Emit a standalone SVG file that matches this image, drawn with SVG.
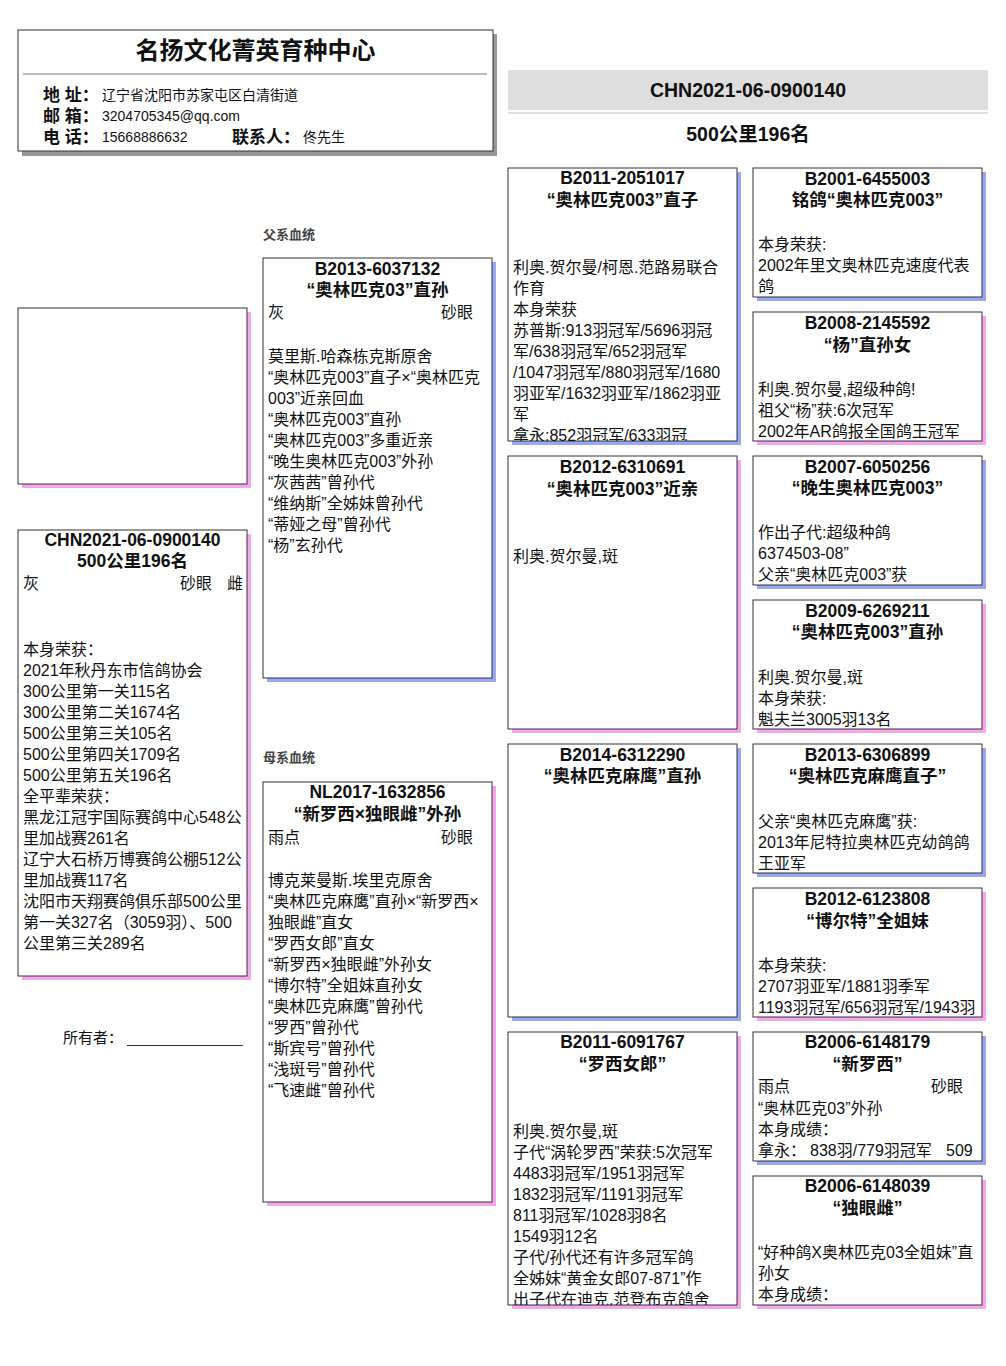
<svg xmlns="http://www.w3.org/2000/svg" width="1006" height="1366" viewBox="0 0 1006 1366">
<style>
.bg{fill:#fff}
.box{fill:#fff;stroke:#333;stroke-width:1}
.sb{fill:#9aa8f3}
.sp{fill:#f6a7eb}
.sg{fill:#999}
.h{font-family:"Liberation Sans","Noto Sans CJK SC",sans-serif;font-weight:bold;font-size:17.5px;text-anchor:middle;fill:#111}
.t{font-family:"Liberation Sans","Noto Sans CJK SC",sans-serif;font-size:16px;fill:#111}
.lb{font-family:"Liberation Sans","Noto Sans CJK SC",sans-serif;font-weight:bold;font-size:17px;fill:#111}
.v{font-family:"Liberation Sans","Noto Sans CJK SC",sans-serif;font-size:14px;fill:#111}
.sec{font-family:"Liberation Sans","Noto Sans CJK SC",sans-serif;font-weight:bold;font-size:13px;fill:#444}
</style>
<defs>
<clipPath id="cA"><rect x="508" y="168" width="229" height="273"/></clipPath>
<clipPath id="cD"><rect x="508" y="1032" width="229" height="273"/></clipPath>
</defs>
<rect class="bg" x="0" y="0" width="1006" height="1366"/>

<g id="header">
<rect class="sg" x="22" y="34" width="475" height="122"/>
<rect class="box" x="18" y="30" width="475" height="121"/>
<line x1="23" y1="74" x2="487" y2="74" stroke="#777" stroke-width="1"/>
<text x="255.5" y="59" text-anchor="middle" style="font-family:'Liberation Sans','Noto Sans CJK SC',sans-serif;font-weight:bold;font-size:24px;fill:#111">名扬文化菁英育种中心</text>
<text class="lb" x="43" y="101">地 址：</text>
<text class="v" x="102" y="100">辽宁省沈阳市苏家屯区白清街道</text>
<text class="lb" x="43" y="122">邮 箱：</text>
<text class="v" x="102" y="121">3204705345@qq.com</text>
<text class="lb" x="43" y="143">电 话：</text>
<text class="v" x="102" y="142">15668886632</text>
<text class="lb" x="232" y="143">联系人：</text>
<text class="v" x="303" y="142">佟先生</text>
</g>

<g id="title">
<rect x="508" y="70" width="480" height="40" fill="#dedede"/>
<rect x="508" y="112" width="480" height="2" fill="#dedede"/>
<text x="748" y="97" text-anchor="middle" style="font-family:'Liberation Sans','Noto Sans CJK SC',sans-serif;font-weight:bold;font-size:19.5px;fill:#111">CHN2021-06-0900140</text>
<text x="748" y="141" text-anchor="middle" style="font-family:'Liberation Sans','Noto Sans CJK SC',sans-serif;font-weight:bold;font-size:19.5px;fill:#111">500公里196名</text>
</g>

<g id="photo">
<rect class="sp" x="22" y="312" width="229" height="176"/>
<rect class="box" x="18" y="308" width="229" height="176"/>
</g>

<g id="subject">
<rect class="sp" x="22" y="534" width="229" height="446"/>
<rect class="box" x="18" y="530" width="229" height="446"/>
<text class="h" x="132.5" y="546">CHN2021-06-0900140</text>
<text class="h" x="132.5" y="567">500公里196名</text>
<text class="t" x="23" y="589">灰</text>
<text class="t" x="180" y="589">砂眼</text>
<text class="t" x="227" y="589">雌</text>
<text class="t" x="23" y="655">本身荣获：</text>
<text class="t" x="23" y="676">2021年秋丹东市信鸽协会</text>
<text class="t" x="23" y="697">300公里第一关115名</text>
<text class="t" x="23" y="718">300公里第二关1674名</text>
<text class="t" x="23" y="739">500公里第三关105名</text>
<text class="t" x="23" y="760">500公里第四关1709名</text>
<text class="t" x="23" y="781">500公里第五关196名</text>
<text class="t" x="23" y="802">全平辈荣获：</text>
<text class="t" x="23" y="823">黑龙江冠宇国际赛鸽中心548公</text>
<text class="t" x="23" y="844">里加战赛261名</text>
<text class="t" x="23" y="865">辽宁大石桥万博赛鸽公棚512公</text>
<text class="t" x="23" y="886">里加战赛117名</text>
<text class="t" x="23" y="907">沈阳市天翔赛鸽俱乐部500公里</text>
<text class="t" x="23" y="928">第一关327名（3059羽）、500</text>
<text class="t" x="23" y="949">公里第三关289名</text>
</g>

<g id="owner">
<text x="63" y="1043" style="font-family:'Liberation Sans','Noto Sans CJK SC',sans-serif;font-size:15px;fill:#111">所有者：</text>
<line x1="127" y1="1045.5" x2="243" y2="1045.5" stroke="#333" stroke-width="1"/>
</g>

<g id="sire">
<text class="sec" x="263" y="239">父系血统</text>
<rect class="sb" x="267" y="262" width="229" height="420"/>
<rect class="box" x="263" y="258" width="229" height="420"/>
<text class="h" x="377.5" y="275">B2013-6037132</text>
<text class="h" x="377.5" y="296">“奥林匹克03”直孙</text>
<text class="t" x="268" y="318">灰</text>
<text class="t" x="441" y="318">砂眼</text>
<text class="t" x="268" y="362">莫里斯.哈森栋克斯原舍</text>
<text class="t" x="268" y="383">“奥林匹克003”直子×“奥林匹克</text>
<text class="t" x="268" y="404">003”近亲回血</text>
<text class="t" x="268" y="425">“奥林匹克003”直孙</text>
<text class="t" x="268" y="446">“奥林匹克003”多重近亲</text>
<text class="t" x="268" y="467">“晚生奥林匹克003”外孙</text>
<text class="t" x="268" y="488">“灰茜茜”曾孙代</text>
<text class="t" x="268" y="509">“维纳斯”全姊妹曾孙代</text>
<text class="t" x="268" y="530">“蒂娅之母”曾孙代</text>
<text class="t" x="268" y="551">“杨”玄孙代</text>
</g>

<g id="dam">
<text class="sec" x="263" y="762">母系血统</text>
<rect class="sp" x="267" y="786" width="229" height="420"/>
<rect class="box" x="263" y="782" width="229" height="420"/>
<text class="h" x="377.5" y="798">NL2017-1632856</text>
<text class="h" x="377.5" y="820">“新罗西×独眼雌”外孙</text>
<text class="t" x="268" y="843">雨点</text>
<text class="t" x="441" y="843">砂眼</text>
<text class="t" x="268" y="886">博克莱曼斯.埃里克原舍</text>
<text class="t" x="268" y="907">“奥林匹克麻鹰”直孙×“新罗西×</text>
<text class="t" x="268" y="928">独眼雌”直女</text>
<text class="t" x="268" y="949">“罗西女郎”直女</text>
<text class="t" x="268" y="970">“新罗西×独眼雌”外孙女</text>
<text class="t" x="268" y="991">“博尔特”全姐妹直孙女</text>
<text class="t" x="268" y="1012">“奥林匹克麻鹰”曾孙代</text>
<text class="t" x="268" y="1033">“罗西”曾孙代</text>
<text class="t" x="268" y="1054">“斯宾号”曾孙代</text>
<text class="t" x="268" y="1075">“浅斑号”曾孙代</text>
<text class="t" x="268" y="1096">“飞速雌”曾孙代</text>
</g>

<g id="ss">
<rect class="sb" x="512" y="172" width="229" height="273"/>
<rect class="box" x="508" y="168" width="229" height="273"/>
<text class="h" x="622.5" y="184">B2011-2051017</text>
<text class="h" x="622.5" y="206">“奥林匹克003”直子</text>
<g clip-path="url(#cA)">
<text class="t" x="513" y="273">利奥.贺尔曼/柯恩.范路易联合</text>
<text class="t" x="513" y="294">作育</text>
<text class="t" x="513" y="315">本身荣获</text>
<text class="t" x="513" y="336">苏普斯:913羽冠军/5696羽冠</text>
<text class="t" x="513" y="357">军/638羽冠军/652羽冠军</text>
<text class="t" x="513" y="378">/1047羽冠军/880羽冠军/1680</text>
<text class="t" x="513" y="399">羽亚军/1632羽亚军/1862羽亚</text>
<text class="t" x="513" y="420">军</text>
<text class="t" x="513" y="441">拿永:852羽冠军/633羽冠</text>
</g>
</g>

<g id="sd">
<rect class="sp" x="512" y="460" width="229" height="273"/>
<rect class="box" x="508" y="456" width="229" height="273"/>
<text class="h" x="622.5" y="473">B2012-6310691</text>
<text class="h" x="622.5" y="495">“奥林匹克003”近亲</text>
<text class="t" x="513" y="562">利奥.贺尔曼,斑</text>
</g>

<g id="ds">
<rect class="sb" x="512" y="748" width="229" height="273"/>
<rect class="box" x="508" y="744" width="229" height="273"/>
<text class="h" x="622.5" y="761">B2014-6312290</text>
<text class="h" x="622.5" y="782">“奥林匹克麻鹰”直孙</text>
</g>

<g id="dd">
<rect class="sp" x="512" y="1036" width="229" height="273"/>
<rect class="box" x="508" y="1032" width="229" height="273"/>
<text class="h" x="622.5" y="1048">B2011-6091767</text>
<text class="h" x="622.5" y="1070">“罗西女郎”</text>
<g clip-path="url(#cD)">
<text class="t" x="513" y="1137">利奥.贺尔曼,斑</text>
<text class="t" x="513" y="1158">子代“涡轮罗西”荣获:5次冠军</text>
<text class="t" x="513" y="1179">4483羽冠军/1951羽冠军</text>
<text class="t" x="513" y="1200">1832羽冠军/1191羽冠军</text>
<text class="t" x="513" y="1221">811羽冠军/1028羽8名</text>
<text class="t" x="513" y="1242">1549羽12名</text>
<text class="t" x="513" y="1263">子代/孙代还有许多冠军鸽</text>
<text class="t" x="513" y="1284">全姊妹“黄金女郎07-871”作</text>
<text class="t" x="513" y="1305">出子代在迪克.范登布克鸽舍</text>
</g>
</g>

<g id="sss">
<rect class="sb" x="757" y="172" width="229" height="129"/>
<rect class="box" x="753" y="168" width="229" height="129"/>
<text class="h" x="867.5" y="185">B2001-6455003</text>
<text class="h" x="867.5" y="206">铭鸽“奥林匹克003”</text>
<text class="t" x="758" y="250">本身荣获:</text>
<text class="t" x="758" y="271">2002年里文奥林匹克速度代表</text>
<text class="t" x="758" y="292">鸽</text>
</g>

<g id="ssd">
<rect class="sp" x="757" y="316" width="229" height="129"/>
<rect class="box" x="753" y="312" width="229" height="129"/>
<text class="h" x="867.5" y="329">B2008-2145592</text>
<text class="h" x="867.5" y="351">“杨”直孙女</text>
<text class="t" x="758" y="395">利奥.贺尔曼,超级种鸽!</text>
<text class="t" x="758" y="416">祖父“杨”获:6次冠军</text>
<text class="t" x="758" y="437">2002年AR鸽报全国鸽王冠军</text>
</g>

<g id="sds">
<rect class="sb" x="757" y="460" width="229" height="129"/>
<rect class="box" x="753" y="456" width="229" height="129"/>
<text class="h" x="867.5" y="473">B2007-6050256</text>
<text class="h" x="867.5" y="494">“晚生奥林匹克003”</text>
<text class="t" x="758" y="538">作出子代:超级种鸽</text>
<text class="t" x="758" y="559">6374503-08”</text>
<text class="t" x="758" y="580">父亲“奥林匹克003”获</text>
</g>

<g id="sdd">
<rect class="sp" x="757" y="604" width="229" height="129"/>
<rect class="box" x="753" y="600" width="229" height="129"/>
<text class="h" x="867.5" y="617">B2009-6269211</text>
<text class="h" x="867.5" y="638">“奥林匹克003”直孙</text>
<text class="t" x="758" y="683">利奥.贺尔曼,斑</text>
<text class="t" x="758" y="704">本身荣获:</text>
<text class="t" x="758" y="725">魁夫兰3005羽13名</text>
</g>

<g id="dss">
<rect class="sb" x="757" y="748" width="229" height="129"/>
<rect class="box" x="753" y="744" width="229" height="129"/>
<text class="h" x="867.5" y="761">B2013-6306899</text>
<text class="h" x="867.5" y="782">“奥林匹克麻鹰直子”</text>
<text class="t" x="758" y="827">父亲“奥林匹克麻鹰”获:</text>
<text class="t" x="758" y="848">2013年尼特拉奥林匹克幼鸽鸽</text>
<text class="t" x="758" y="869">王亚军</text>
</g>

<g id="dsd">
<rect class="sp" x="757" y="892" width="229" height="129"/>
<rect class="box" x="753" y="888" width="229" height="129"/>
<text class="h" x="867.5" y="905">B2012-6123808</text>
<text class="h" x="867.5" y="927">“博尔特”全姐妹</text>
<text class="t" x="758" y="971">本身荣获:</text>
<text class="t" x="758" y="992">2707羽亚军/1881羽季军</text>
<text class="t" x="758" y="1013">1193羽冠军/656羽冠军/1943羽</text>
</g>

<g id="dds">
<rect class="sb" x="757" y="1036" width="229" height="129"/>
<rect class="box" x="753" y="1032" width="229" height="129"/>
<text class="h" x="867.5" y="1048">B2006-6148179</text>
<text class="h" x="867.5" y="1070">“新罗西”</text>
<text class="t" x="758" y="1092">雨点</text>
<text class="t" x="931" y="1092">砂眼</text>
<text class="t" x="758" y="1114">“奥林匹克03”外孙</text>
<text class="t" x="758" y="1135">本身成绩：</text>
<text class="t" x="758" y="1156">拿永：<tspan x="810">838羽/779羽冠军</tspan><tspan x="946">509</tspan></text>
</g>

<g id="ddd">
<rect class="sp" x="757" y="1180" width="229" height="129"/>
<rect class="box" x="753" y="1176" width="229" height="129"/>
<text class="h" x="867.5" y="1192">B2006-6148039</text>
<text class="h" x="867.5" y="1214">“独眼雌”</text>
<text class="t" x="758" y="1258">“好种鸽X奥林匹克03全姐妹”直</text>
<text class="t" x="758" y="1279">孙女</text>
<text class="t" x="758" y="1300">本身成绩：</text>
</g>

<g id="connectors"/>
</svg>
